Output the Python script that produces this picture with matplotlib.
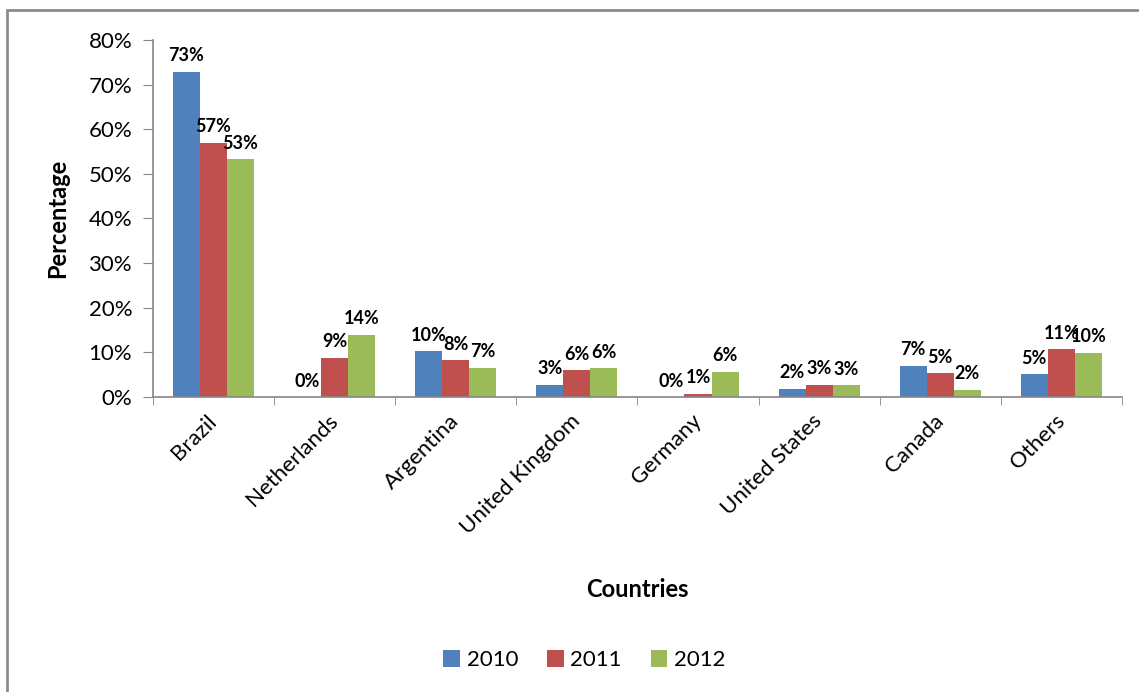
import numpy as np
import matplotlib
matplotlib.use("Agg")
import matplotlib.pyplot as plt
import matplotlib.transforms as mtransforms
from matplotlib.patches import Rectangle
from matplotlib.ticker import PercentFormatter, FixedLocator

countries = ["Brazil", "Netherlands", "Argentina", "United Kingdom",
             "Germany", "United States", "Canada", "Others"]
years = ["2010", "2011", "2012"]

share_2010 = [0.729, 0.000, 0.102, 0.027, 0.000, 0.019, 0.070, 0.051]
share_2011 = [0.570, 0.088, 0.082, 0.060, 0.007, 0.027, 0.053, 0.107]
share_2012 = [0.533, 0.140, 0.066, 0.064, 0.057, 0.026, 0.016, 0.099]

colors = ["#4F81BD", "#C0504D", "#9BBB59"]

plt.rcParams['font.family'] = ['Lato', 'DejaVu Sans']

fig = plt.figure(figsize=(11.39, 6.92), dpi=100)
ax = fig.add_axes([0.1343, 0.4263, 0.8507, 0.5159])

x = np.arange(len(countries))
w = 0.223
series = [share_2010, share_2011, share_2012]
for i, (vals, yr, c) in enumerate(zip(series, years, colors)):
    pos = x + (i - 1) * w
    ax.bar(pos, vals, width=w, color=c, label=yr, zorder=2)
    for px, v in zip(pos, vals):
        ax.annotate("{:.0f}%".format(round(v * 100)), (px, v),
                    xytext=(0, 11.5), textcoords="offset points",
                    ha="center", va="center", fontsize=13,
                    fontweight="bold", color="black")

ax.set_xlim(-0.5, len(countries) - 0.5)
ax.set_ylim(0, 0.8)
ax.set_yticks(np.arange(0, 0.81, 0.1))
ax.yaxis.set_major_formatter(PercentFormatter(1.0, decimals=0))

ax.set_xticks(x)
ax.set_xticklabels(countries, rotation=45, ha="right", va="center",
                   rotation_mode="anchor")
ax.xaxis.set_minor_locator(FixedLocator(np.arange(-0.5, len(countries), 1.0)))
# nudge the slanted names a little to the right
shift = mtransforms.ScaledTranslation(5 / 100, 0, fig.dpi_scale_trans)
for lbl in ax.get_xticklabels():
    lbl.set_transform(lbl.get_transform() + shift)

ax.tick_params(axis="y", length=7, color="#868686", labelsize=16, pad=8)
ax.tick_params(axis="x", which="major", length=0, labelsize=16, pad=15)
ax.tick_params(axis="x", which="minor", length=6, color="#868686")

for side in ["top", "right"]:
    ax.spines[side].set_visible(False)
for side in ["left", "bottom"]:
    ax.spines[side].set_color("#868686")
    ax.spines[side].set_linewidth(1.2)

ax.set_ylabel("Percentage", fontsize=17, fontweight="bold")
ax.yaxis.set_label_coords(-0.087, 0.5)
ax.set_xlabel("Countries", fontsize=17, fontweight="bold")
ax.xaxis.set_label_coords(0.5, -0.507)

leg = fig.legend(loc="center", bbox_to_anchor=(0.513, 0.046), ncol=3,
                 frameon=False, fontsize=16, handlelength=0.75,
                 handleheight=0.75, handletextpad=0.3, columnspacing=1.3)

# outer chart border
fig.patches.append(Rectangle((0.0061, -0.2), 1.5, 1.1855, fill=False,
                             edgecolor="#8c8c8c", linewidth=2,
                             transform=fig.transFigure, clip_on=False))

fig.savefig("out.png", dpi=100)
